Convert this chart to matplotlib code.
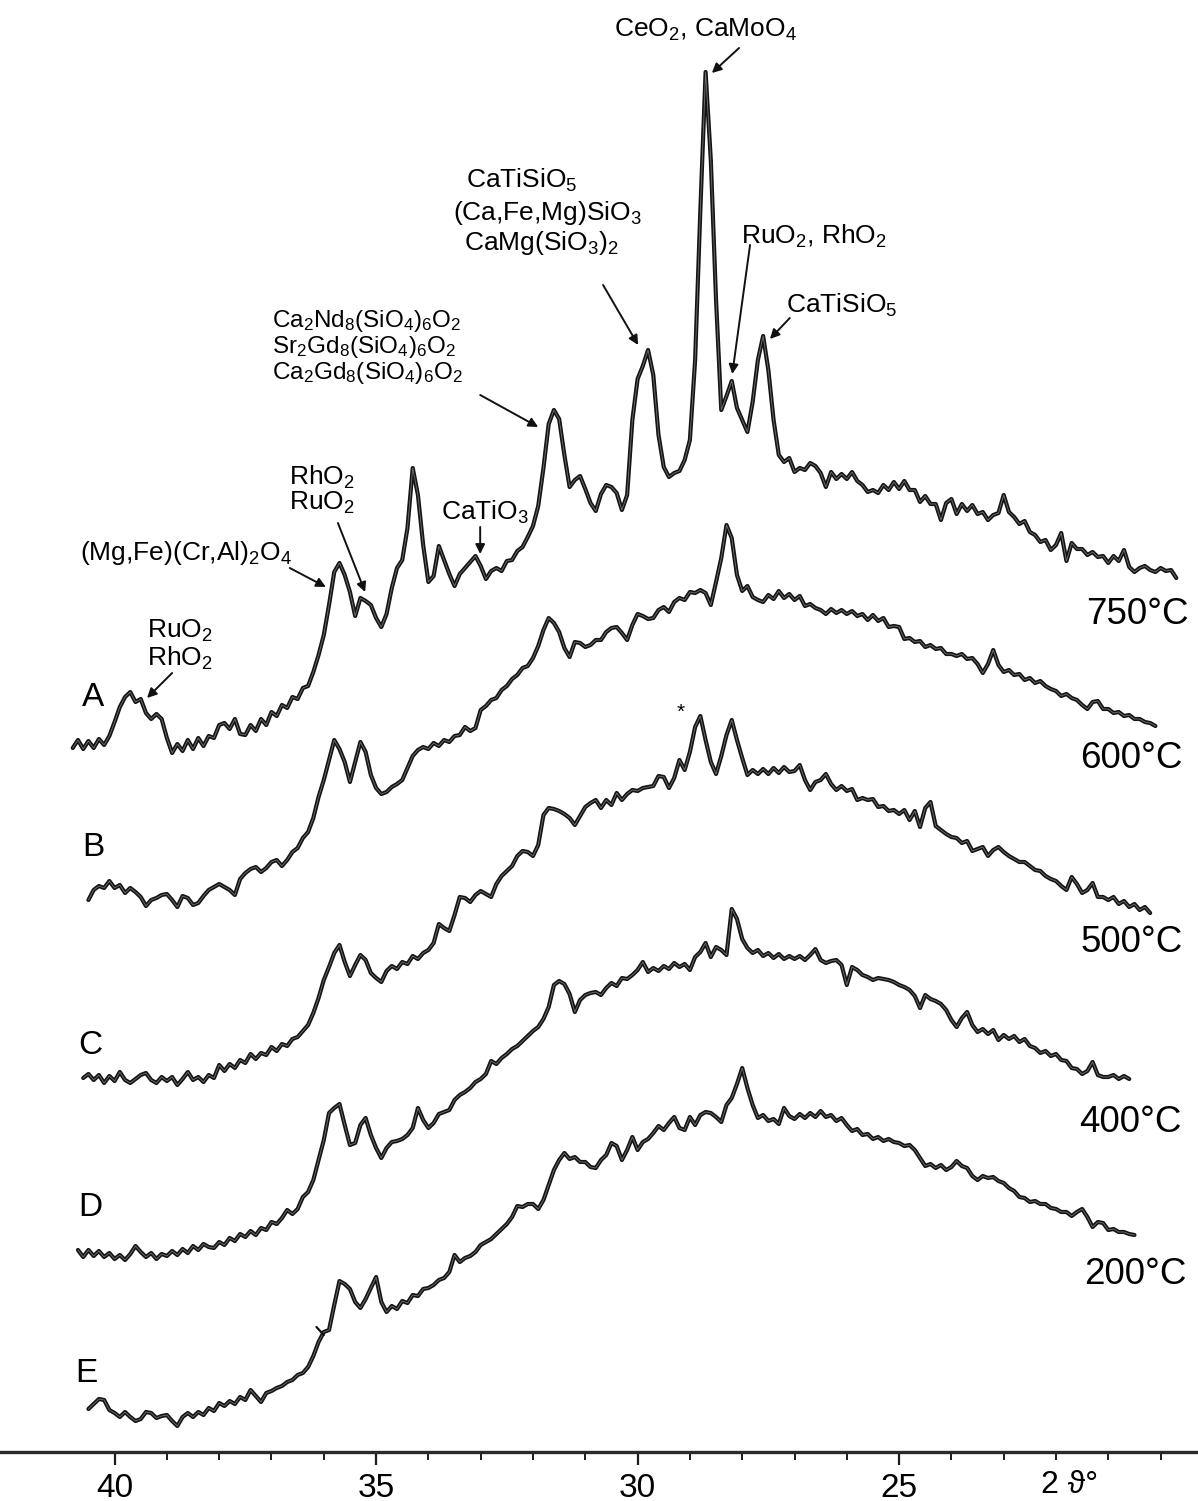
import numpy as np
import matplotlib
matplotlib.use("Agg")
import matplotlib.pyplot as plt
from matplotlib.ticker import FixedLocator, NullFormatter

plt.rcParams['font.family'] = ['Liberation Sans', 'DejaVu Sans']
plt.rcParams['mathtext.fontset'] = 'custom'
plt.rcParams['mathtext.rm'] = 'Liberation Sans'

# ---- step-scan data: start angle (deg 2theta), step, counts (arb. units) ----
SCAN_STEP = 0.1

start_A = 40.8   # 750 C
counts_A = [
    12, 20, 11, 19, 12, 21, 15, 24,
    38, 53, 63, 68, 58, 61, 47, 41, 46, 41,
    22, 7, 16, 9, 20, 11, 22, 14, 24, 22,
    35, 37, 31, 41, 26, 25, 35, 29, 41, 35,
    48, 44, 55, 52, 63, 61, 72, 74, 88, 105,
    125, 155, 188, 197, 185, 168, 144, 162, 159, 155,
    142, 133, 146, 172, 192, 200, 232, 292, 265, 215,
    178, 184, 214, 200, 186, 174, 186, 192, 198, 204,
    194, 181, 189, 192, 189, 199, 200, 209, 213, 223,
    234, 254, 292, 336, 350, 341, 305, 273, 280, 284,
    271, 257, 249, 266, 275, 273, 267, 250, 265, 340,
    381, 394, 410, 385, 325, 293, 283, 287, 289, 300,
    320, 400, 550, 688, 600, 460, 350, 364, 379, 352,
    340, 328, 358, 400, 424, 390, 340, 305, 298, 302,
    288, 292, 290, 297, 294, 287, 273, 288, 281, 286,
    281, 288, 279, 275, 268, 270, 267, 275, 270, 278,
    271, 279, 270, 270, 258, 264, 256, 256, 240, 257,
    261, 246, 256, 249, 255, 246, 248, 240, 245, 247,
    265, 248, 243, 236, 239, 228, 225, 218, 220, 210,
    215, 227, 199, 217, 211, 211, 205, 208, 203, 204,
    197, 204, 199, 210, 193, 188, 192, 194, 190, 188,
    192, 189, 190, 182,
]

start_B = 40.5   # 600 C
counts_B = [
    10, 20, 24, 22, 29,
    22, 25, 17, 22, 18, 13, 4, 10, 12, 15,
    16, 10, 3, 14, 12, 5, 7, 14, 20, 23,
    26, 23, 20, 15, 31, 37, 41, 43, 38, 42,
    48, 50, 44, 50, 58, 62, 72, 78, 92, 113,
    130, 150, 170, 161, 148, 128, 148, 168, 158, 135,
    122, 116, 118, 123, 126, 130, 142, 154, 160, 163,
    161, 167, 164, 170, 168, 174, 175, 183, 179, 182,
    200, 204, 210, 212, 220, 224, 231, 235, 242, 244,
    252, 264, 280, 292, 287, 278, 262, 253, 268, 267,
    263, 265, 270, 270, 278, 282, 283, 277, 270, 285,
    296, 294, 291, 292, 300, 303, 298, 308, 312, 310,
    318, 317, 320, 317, 305, 328, 352, 385, 372, 335,
    319, 324, 313, 310, 308, 315, 311, 319, 312, 316,
    310, 314, 304, 306, 302, 300, 296, 301, 297, 300,
    296, 299, 294, 296, 290, 295, 289, 292, 283, 284,
    283, 271, 272, 268, 269, 263, 265, 261, 262, 256,
    256, 254, 256, 251, 252, 246, 237, 246, 260, 245,
    238, 240, 235, 236, 230, 232, 227, 229, 224, 221,
    219, 214, 216, 212, 210, 205, 201, 208, 209, 201,
    201, 197, 198, 194, 195, 191, 191, 188, 187, 184,
]

start_C = 40.6   # 500 C
counts_C = [
    12, 16, 10, 15, 7, 14,
    9, 18, 10, 7, 11, 15, 17, 10, 7, 13,
    9, 13, 5, 11, 18, 10, 13, 8, 15, 12,
    25, 19, 26, 22, 30, 27, 36, 31, 37, 35,
    43, 39, 46, 44, 51, 53, 59, 65, 77, 92,
    110, 123, 137, 145, 128, 114, 125, 135, 130, 117,
    112, 108, 119, 124, 121, 128, 126, 134, 131, 137,
    140, 147, 166, 162, 159, 175, 193, 192, 188, 195,
    199, 196, 193, 206, 214, 219, 224, 234, 239, 238,
    234, 245, 275, 282, 281, 279, 276, 272, 265, 274,
    283, 287, 290, 282, 290, 285, 297, 290, 296, 300,
    299, 302, 303, 304, 314, 313, 302, 312, 330, 320,
    338, 363, 374, 350, 328, 316, 334, 355, 370, 350,
    332, 315, 320, 316, 321, 316, 322, 317, 323, 318,
    319, 325, 310, 300, 308, 310, 316, 306, 300, 304,
    299, 301, 290, 292, 290, 291, 283, 284, 279, 280,
    276, 280, 270, 279, 263, 282, 288, 264, 260, 256,
    253, 252, 247, 249, 239, 241, 243, 234, 240, 243,
    238, 234, 231, 228, 228, 224, 220, 219, 214, 211,
    209, 204, 200, 213, 206, 197, 200, 207, 193, 193,
    190, 193, 186, 189, 183, 186, 180, 183, 177,
]

start_D = 40.7   # 400 C
counts_D = [
    15, 8, 15, 9, 14, 8, 12,
    6, 10, 5, 11, 19, 13, 8, 12, 6, 11,
    9, 14, 10, 16, 12, 19, 15, 21, 18, 17,
    23, 20, 27, 24, 31, 28, 34, 30, 37, 35,
    43, 41, 47, 55, 51, 56, 68, 73, 85, 105,
    125, 152, 157, 161, 140, 120, 122, 140, 147, 130,
    117, 107, 117, 123, 124, 126, 130, 137, 157, 145,
    137, 142, 151, 153, 155, 165, 170, 173, 177, 183,
    186, 191, 204, 201, 207, 211, 216, 219, 224, 229,
    234, 238, 246, 258, 280, 284, 281, 271, 253, 265,
    270, 272, 273, 270, 277, 282, 279, 287, 286, 290,
    295, 303, 293, 297, 294, 299, 296, 302, 298, 301,
    295, 308, 313, 322, 308, 318, 315, 310, 356, 346,
    326, 317, 312, 315, 309, 312, 307, 311, 306, 309,
    306, 309, 305, 310, 316, 305, 302, 304, 305, 300,
    280, 298, 295, 290, 288, 285, 287, 286, 285, 283,
    280, 278, 275, 269, 257, 270, 266, 264, 261, 255,
    245, 238, 247, 253, 240, 233, 236, 231, 235, 225,
    230, 226, 229, 223, 226, 219, 217, 212, 214, 209,
    211, 205, 204, 197, 196, 191, 194, 203, 190, 188,
    188, 190, 186, 189, 186,
]

start_E = 40.5   # 200 C
counts_E = [
    21, 26, 31, 30, 20,
    17, 13, 18, 13, 9, 11, 18, 17, 12, 14,
    15, 9, 4, 13, 17, 13, 18, 15, 22, 19,
    27, 24, 29, 26, 33, 30, 40, 34, 28, 37,
    39, 42, 44, 48, 50, 55, 57, 63, 74, 88,
    98, 100, 125, 149, 146, 141, 128, 122, 131, 142,
    153, 128, 118, 124, 121, 129, 127, 135, 134, 141,
    142, 145, 150, 152, 158, 175, 168, 172, 174, 178,
    185, 188, 191, 196, 201, 206, 213, 224, 223, 226,
    226, 221, 230, 245, 260, 270, 277, 271, 273, 268,
    268, 263, 262, 270, 275, 287, 284, 270, 280, 293,
    280, 288, 291, 297, 304, 300, 307, 313, 302, 300,
    313, 305, 315, 318, 317, 313, 308, 325, 332, 346,
    362, 342, 325, 312, 315, 309, 311, 306, 322, 314,
    311, 316, 312, 317, 313, 319, 313, 315, 309, 312,
    305, 299, 301, 295, 296, 291, 293, 289, 291, 288,
    287, 284, 285, 280, 272, 264, 266, 262, 265, 260,
    263, 269, 264, 262, 254, 250, 254, 252, 253, 249,
    247, 242, 239, 233, 232, 228, 229, 226, 226, 222,
    221, 218, 218, 214, 218, 221, 213, 203, 208, 207,
    200, 201, 198, 198, 196, 195,
]

letters = ["A", "B", "C", "D", "E"]
temperatures = ["750°C", "600°C", "500°C", "400°C", "200°C"]
offsets = [692, 542, 362, 187, 22]          # vertical stacking of the patterns
starts = [start_A, start_B, start_C, start_D, start_E]
series = [counts_A, counts_B, counts_C, counts_D, counts_E]

major_ticks = [40, 35, 30, 25]
minor_ticks = [39, 38, 37, 36, 34, 33, 32, 31, 29, 28, 27, 26, 24, 23, 22, 21, 20]

# ---- figure ----
W, H = 1198, 1501
fig = plt.figure(figsize=(W / 100, H / 100), dpi=100)
axis_py = 1452
y0 = (H - axis_py) / H
ax = fig.add_axes([0, y0, 1, 1 - y0])
ax.set_xlim(42.191, 19.285)
ax.set_ylim(0, axis_py)

for s in ("top", "right", "left"):
    ax.spines[s].set_visible(False)
ax.spines["bottom"].set_linewidth(2.4)
ax.spines["bottom"].set_color("#2a2a2a")
ax.yaxis.set_visible(False)
ax.xaxis.set_major_locator(FixedLocator(major_ticks))
ax.xaxis.set_minor_locator(FixedLocator(minor_ticks))
ax.xaxis.set_minor_formatter(NullFormatter())
ax.tick_params(axis="x", which="major", direction="out", length=9, width=1.6,
               color="#1c1c1c", labelsize=24, pad=6)
ax.tick_params(axis="x", which="minor", direction="out", length=6, width=1.4,
               color="#1c1c1c")
ax.set_xticklabels([str(t) for t in major_ticks])
ax.text(21.75, -33, "2 ϑ°", fontsize=23, ha="center", va="center",
        family=["Liberation Sans", "DejaVu Sans"], clip_on=False)

# ---- diffraction patterns ----
for start, cts, off in zip(starts, series, offsets):
    cts = np.asarray(cts, dtype=float)
    tt = start - SCAN_STEP * np.arange(len(cts))
    ax.plot(tt, off + cts, color="#141414", lw=3.0,
            solid_joinstyle="round", solid_capstyle="round")
    ax.plot(tt, off + cts, color="#8a8a8a", lw=0.6, alpha=0.8)

# curve letters and temperatures
letter_pos = [(40.41, 755), (40.41, 604), (40.47, 407), (40.47, 244), (40.53, 79)]
temp_pos = [(20.45, 837), (20.55, 694), (20.55, 509), (20.58, 330), (20.49, 177)]
for lab, (x, y) in zip(letters, letter_pos):
    ax.text(x, y, lab, fontsize=24, ha="center", va="center")
for lab, (x, y) in zip(temperatures, temp_pos):
    ax.text(x, y, lab, fontsize=26.5, ha="center", va="center")

# ---- phase annotations ----
fs = 19
sub = lambda s: r"$\mathregular{_{%s}}$" % s
arrow = dict(arrowstyle="-|>", color="#111111", lw=1.4, mutation_scale=14,
             shrinkA=0, shrinkB=0)

def point(tail, tip):
    ax.annotate("", xy=tip, xytext=tail, arrowprops=arrow)

ax.text(28.71, 1422, "CeO" + sub(2) + ", CaMoO" + sub(4), fontsize=fs,
        ha="center", va="center")
point((28.06, 1404), (28.58, 1379))

ax.text(33.28, 1272, "CaTiSiO" + sub(5), fontsize=fs, ha="left", va="center")
ax.text(33.53, 1239, "(Ca,Fe,Mg)SiO" + sub(3), fontsize=fs, ha="left", va="center")
ax.text(33.32, 1209, "CaMg(SiO" + sub(3) + ")" + sub(2), fontsize=fs,
        ha="left", va="center")
point((30.66, 1167), (29.99, 1107))

fs_apatite = 17.5
for yy, (a, b) in zip([1131, 1105, 1079], [("Ca", "Nd"), ("Sr", "Gd"), ("Ca", "Gd")]):
    ax.text(36.99, yy, a + sub(2) + b + sub(8) + "(SiO" + sub(4) + ")" + sub(6)
            + "O" + sub(2), fontsize=fs_apatite, ha="left", va="center")
point((33.01, 1057), (31.90, 1025))

ax.text(28.02, 1216, "RuO" + sub(2) + ", RhO" + sub(2), fontsize=fs,
        ha="left", va="center")
point((27.85, 1207), (28.19, 1078))

ax.text(27.16, 1147, "CaTiSiO" + sub(5), fontsize=fs, ha="left", va="center")
point((27.09, 1134), (27.47, 1113))

ax.text(32.92, 940, "CaTiO" + sub(3), fontsize=fs, ha="center", va="center")
point((33.01, 925), (33.01, 898))

ax.text(36.03, 975, "RhO" + sub(2), fontsize=fs, ha="center", va="center")
ax.text(36.03, 949, "RuO" + sub(2), fontsize=fs, ha="center", va="center")
point((35.73, 929), (35.21, 860))

ax.text(38.63, 899, "(Mg,Fe)(Cr,Al)" + sub(2) + "O" + sub(4), fontsize=fs,
        ha="center", va="center")
point((36.65, 884), (35.96, 865))

ax.text(38.75, 821, "RuO" + sub(2), fontsize=fs, ha="center", va="center")
ax.text(38.75, 794, "RhO" + sub(2), fontsize=fs, ha="center", va="center")
point((38.90, 779), (39.38, 754))

# marker on the 500 C pattern and the small stroke on the 200 C pattern
ax.text(29.17, 740, "*", fontsize=15, ha="center", va="center")
ax.annotate("", xy=(36.0, 117), xytext=(36.14, 125),
            arrowprops=dict(arrowstyle="-", color="#111111", lw=1.6,
                            shrinkA=0, shrinkB=0))

fig.savefig("out.png", dpi=100)
